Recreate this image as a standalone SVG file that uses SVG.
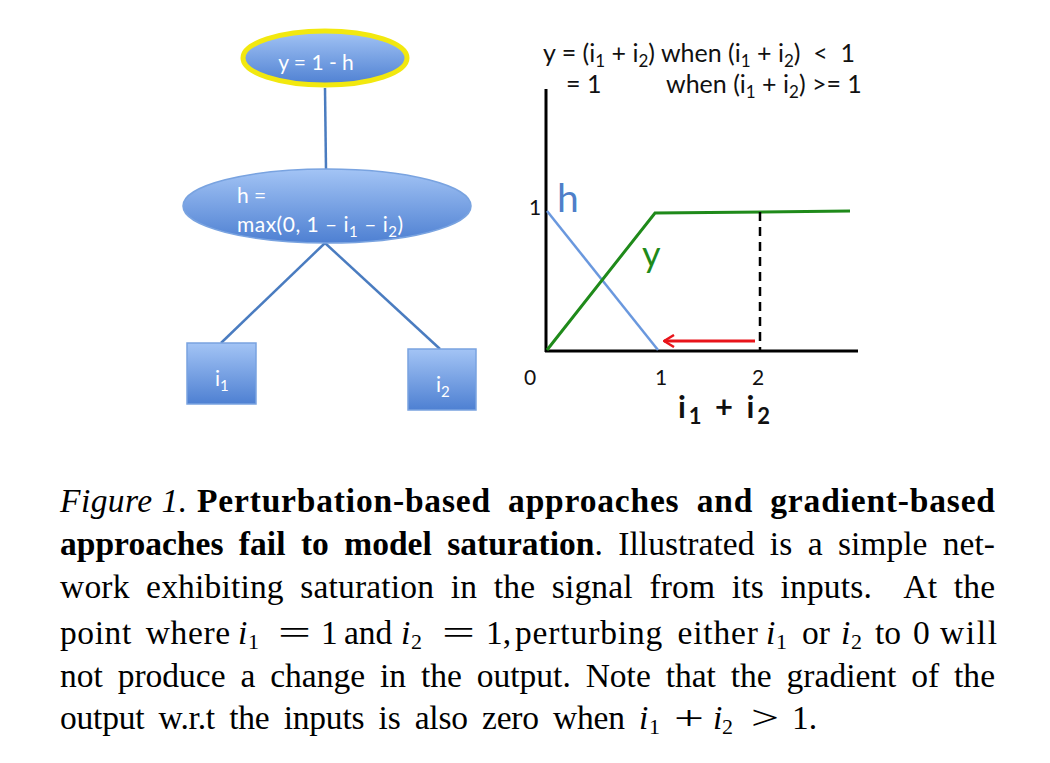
<svg xmlns="http://www.w3.org/2000/svg" width="1050" height="763" viewBox="0 0 1050 763">
<defs>
<linearGradient id="blue" x1="0" y1="0" x2="0" y2="1">
<stop offset="0" stop-color="#a3c4f5"/>
<stop offset="1" stop-color="#4e80d2"/>
</linearGradient>
<marker id="redhead" viewBox="0 0 12 14" refX="11" refY="7" markerWidth="12" markerHeight="14" markerUnits="userSpaceOnUse" orient="auto">
<path d="M1,1 L11,7 L1,13" fill="none" stroke="#e8141a" stroke-width="2.5"/>
</marker>
</defs>
<style>
.node{fill:url(#blue);stroke:#79a3e0;stroke-width:1.5}
.nt{font-family:Lato,"Open Sans",sans-serif;font-size:21px;fill:#ffffff}
.edge{stroke:#4a7cc0;stroke-width:2.5;fill:none}
.gt{font-family:Lato,"Open Sans",sans-serif;font-size:25px;fill:#111111}
.num{font-family:Lato,"Open Sans",sans-serif;font-size:21px;fill:#111111}
.cap{font-family:"Liberation Serif","Times New Roman",serif;font-size:33.5px;fill:#000000}
.b{font-weight:bold}
.it{font-style:italic}
.sub{font-size:22px}
</style>
<rect width="1050" height="763" fill="#ffffff"/>

<g id="connectors">
<line class="edge" x1="325" y1="88" x2="326" y2="170"/>
<line class="edge" x1="325" y1="243" x2="221" y2="343"/>
<line class="edge" x1="325" y1="243" x2="440" y2="349"/>
</g>

<g id="node-y">
<ellipse cx="325" cy="58" rx="82" ry="27" fill="url(#blue)" stroke="#f2e80f" stroke-width="5"/>
<text class="nt" x="316" y="70" text-anchor="middle">y = 1 - h</text>
</g>

<g id="node-h">
<ellipse class="node" cx="327" cy="206" rx="144" ry="37"/>
<text class="nt" x="237" y="203">h =</text>
<text class="nt" x="237" y="232" textLength="166" lengthAdjust="spacing">max(0, 1 – i<tspan font-size="15" dy="5">1</tspan><tspan dy="-5"> – i</tspan><tspan font-size="15" dy="5">2</tspan><tspan dy="-5">)</tspan></text>
</g>

<g id="node-i1">
<rect class="node" x="187" y="343" width="69" height="61"/>
<text class="nt" x="215" y="386">i<tspan font-size="15" dy="5">1</tspan></text>
</g>

<g id="node-i2">
<rect class="node" x="408" y="349" width="68" height="61"/>
<text class="nt" x="436" y="392">i<tspan font-size="15" dy="5">2</tspan></text>
</g>

<g id="graph">
<text class="gt" x="543" y="62" xml:space="preserve">y = (i<tspan font-size="17" dy="5">1</tspan><tspan dy="-5"> + i</tspan><tspan font-size="17" dy="5">2</tspan><tspan dy="-5">) when (i</tspan><tspan font-size="17" dy="5">1</tspan><tspan dy="-5"> + i</tspan><tspan font-size="17" dy="5">2</tspan><tspan dy="-5">)  &lt;  1</tspan></text>
<text class="gt" x="566" y="93">= 1</text>
<text class="gt" x="666" y="93" xml:space="preserve">when (i<tspan font-size="17" dy="5">1</tspan><tspan dy="-5"> + i</tspan><tspan font-size="17" dy="5">2</tspan><tspan dy="-5">) &gt;= 1</tspan></text>

<line x1="546" y1="89" x2="546" y2="352" stroke="#000" stroke-width="3"/>
<line x1="545" y1="351" x2="858" y2="351" stroke="#000" stroke-width="3"/>

<polyline points="547,211 658,350" fill="none" stroke="#6a98de" stroke-width="2.5"/>
<polyline points="547,350 655,213 850,211" fill="none" stroke="#1f8a1a" stroke-width="3"/>
<line x1="760" y1="212" x2="760" y2="350" stroke="#000" stroke-width="2.5" stroke-dasharray="9,6"/>
<line x1="755" y1="341" x2="664" y2="341" stroke="#e8141a" stroke-width="3" marker-end="url(#redhead)"/>

<text x="557" y="212" font-family="Lato,'Open Sans',sans-serif" font-size="39" fill="#4f7fc9">h</text>
<text x="642" y="267" font-family="Lato,'Open Sans',sans-serif" font-size="36" fill="#1f8a1a">y</text>
<text class="num" x="529" y="215">1</text>
<text class="num" x="524" y="385">0</text>
<text class="num" x="655" y="385">1</text>
<text class="num" x="752" y="385">2</text>
<text x="678" y="418" font-family="Lato,'Open Sans',sans-serif" font-size="31" font-weight="bold" fill="#111" xml:space="preserve" textLength="92" lengthAdjust="spacing">i<tspan font-size="22" dy="6">1</tspan><tspan dy="-6"> + i</tspan><tspan font-size="22" dy="6">2</tspan></text>
</g>

<g id="caption">
<text class="cap" y="512"><tspan class="it" x="60" textLength="127" lengthAdjust="spacing">Figure 1.</tspan><tspan class="b" x="197" word-spacing="8" textLength="798" lengthAdjust="spacing">Perturbation-based approaches and gradient-based</tspan></text>
<text class="cap" x="60" y="555" word-spacing="7" textLength="935" lengthAdjust="spacing"><tspan class="b">approaches fail to model saturation</tspan>. Illustrated is a simple net-</text>
<text class="cap" x="60" y="598" word-spacing="8" textLength="935" lengthAdjust="spacing" xml:space="preserve">work exhibiting saturation in the signal from its inputs.  At the</text>
<text class="cap" y="644"><tspan x="60" word-spacing="5" textLength="170" lengthAdjust="spacing">point where</tspan><tspan class="it" x="238">i</tspan><tspan class="sub" x="248" dy="5">1</tspan><tspan x="278" dy="-5" textLength="33" lengthAdjust="spacingAndGlyphs">=</tspan><tspan x="321">1</tspan><tspan x="344">and</tspan><tspan class="it" x="401">i</tspan><tspan class="sub" x="411" dy="5">2</tspan><tspan x="442" dy="-5" textLength="33" lengthAdjust="spacingAndGlyphs">=</tspan><tspan x="486">1,</tspan><tspan x="515" word-spacing="5" textLength="243" lengthAdjust="spacing">perturbing either</tspan><tspan class="it" x="766">i</tspan><tspan class="sub" x="776" dy="5">1</tspan><tspan x="802" dy="-5">or</tspan><tspan class="it" x="841">i</tspan><tspan class="sub" x="851" dy="5">2</tspan><tspan x="875" dy="-5">to</tspan><tspan x="913">0</tspan><tspan x="940" textLength="57" lengthAdjust="spacing">will</tspan></text>
<text class="cap" x="60" y="687" word-spacing="6.5" textLength="935" lengthAdjust="spacing">not produce a change in the output. Note that the gradient of the</text>
<text class="cap" y="729"><tspan x="60" word-spacing="6" textLength="565" lengthAdjust="spacing">output w.r.t the inputs is also zero when</tspan><tspan class="it" x="639">i</tspan><tspan class="sub" x="649" dy="5">1</tspan><tspan x="674" dy="-5" textLength="30" lengthAdjust="spacingAndGlyphs">+</tspan><tspan class="it" x="713">i</tspan><tspan class="sub" x="722" dy="5">2</tspan><tspan x="751" dy="-5" textLength="28" lengthAdjust="spacingAndGlyphs">&gt;</tspan><tspan x="792">1.</tspan></text>
</g>
</svg>
